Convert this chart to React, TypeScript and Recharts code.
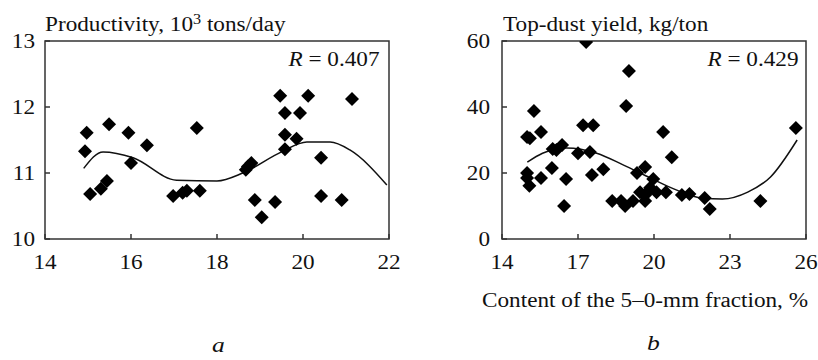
import React from 'react'
import {
  ComposedChart,
  Scatter,
  Line,
  XAxis,
  YAxis,
  ReferenceArea,
} from 'recharts'

// Panel a: productivity vs. 5-0 mm fraction
const productivityX = [
  14.97, 15.49, 15.94, 17.53, 14.93, 16.37, 16.0, 15.05, 15.3, 15.44, 16.98, 17.2, 17.3, 17.6, 18.67,
  18.8, 18.72, 18.88, 19.04, 19.35, 19.58, 19.58, 19.85, 20.42, 20.42, 20.9, 19.47, 20.12, 21.14,
  19.58, 19.93,
]
const productivityY = [
  11.61, 11.74, 11.61, 11.68, 11.33, 11.42, 11.15, 10.68, 10.76, 10.88, 10.65, 10.7, 10.73, 10.73,
  11.05, 11.15, 11.1, 10.59, 10.33, 10.56, 11.58, 11.36, 11.52, 11.23, 10.65, 10.59, 12.17, 12.17,
  12.12, 11.91, 11.91,
]
const productivityTrendX = [14.9, 15.35, 16.05, 17.06, 18.0, 18.6, 19.5, 20.09, 20.63, 21.09, 21.95]
const productivityTrendY = [11.07, 11.32, 11.23, 10.89, 10.88, 11.0, 11.32, 11.47, 11.47, 11.35, 10.82]

// Panel b: top-dust yield vs. 5-0 mm fraction
const dustX = [
  17.32, 19.01, 18.9, 15.26, 17.2, 17.6, 15.54, 20.36, 25.6, 14.99, 15.1, 16.0, 16.37, 16.15, 17.0,
  17.47, 20.7, 15.97, 18.0, 17.55, 14.99, 14.99, 15.54, 15.08, 16.53, 16.45, 19.33, 19.65, 19.97,
  18.35, 18.7, 18.86, 19.17, 19.45, 19.65, 19.73, 19.85, 19.65, 20.1, 20.47, 21.1, 21.4, 22.0, 22.2,
  24.2,
]
const dustY = [
  59.7, 50.9, 40.3, 38.8, 34.5, 34.5, 32.4, 32.4, 33.6, 30.9, 30.5, 27.3, 28.5, 27.0, 26.0, 26.4,
  24.8, 21.5, 21.1, 19.4, 20.0, 18.5, 18.5, 16.1, 18.2, 10.0, 20.0, 21.8, 18.2, 11.5, 11.5, 10.0,
  11.5, 14.2, 11.5, 14.2, 15.5, 13.3, 14.2, 14.2, 13.3, 13.6, 12.4, 9.1, 11.5,
]
const dustTrendX = [15.0, 15.6, 16.55, 17.74, 18.8, 19.85, 20.9, 21.9, 22.7, 23.7, 24.6, 25.65]
const dustTrendY = [23.3, 26.0, 27.6, 26.0, 22.4, 18.5, 14.8, 12.4, 12.1, 14.2, 18.8, 30.0]

const ticksAX = [14, 16, 18, 20, 22]
const ticksAY = [10, 11, 12, 13]
const ticksBX = [14, 17, 20, 23, 26]
const ticksBY = [0, 20, 40, 60]

const FONT = '"Liberation Serif", "Times New Roman", serif'
const FS = 20
const STRETCH = 1.16 // the source typeface is wider than Times
const INK = '#111'
const FRAME = '#333'

const zip = (xs: number[], ys: number[]) => xs.map((x, i) => ({ x, y: ys[i] }))

function Diamond(props: any) {
  const { cx, cy } = props
  if (cx == null || cy == null) return null
  const r = 7
  return <polygon points={`${cx},${cy - r} ${cx + r},${cy} ${cx},${cy + r} ${cx - r},${cy}`} fill="#000" />
}

// serif tick label, widened to match the source face
function SerifTick(props: any) {
  const { x, y, payload, anchor, dy } = props
  return (
    <g transform={`translate(${x},${y}) scale(${STRETCH},1)`}>
      <text x={0} y={0} dy={dy} textAnchor={anchor} fontFamily={FONT} fontSize={FS} fill={INK}>
        {payload.value}
      </text>
    </g>
  )
}

function Panel({
  points,
  trend,
  xDomain,
  yDomain,
  xTicks,
  yTicks,
  width,
  yAxisWidth,
  yTickMargin,
}: {
  points: { x: number; y: number }[]
  trend: { x: number; y: number }[]
  xDomain: [number, number]
  yDomain: [number, number]
  xTicks: number[]
  yTicks: number[]
  width: number
  yAxisWidth: number
  yTickMargin: number
}) {
  return (
    <ComposedChart width={width} height={360} margin={{ top: 41, right: 12, bottom: 91, left: 0 }}>
      <XAxis
        type="number"
        dataKey="x"
        domain={xDomain}
        ticks={xTicks}
        allowDataOverflow
        height={30}
        axisLine={false}
        tickSize={-5}
        tickMargin={21}
        tickLine={{ stroke: FRAME, strokeWidth: 1.5 }}
        tick={<SerifTick anchor="middle" dy="0.71em" />}
        interval={0}
      />
      <YAxis
        type="number"
        dataKey="y"
        domain={yDomain}
        ticks={yTicks}
        allowDataOverflow
        width={yAxisWidth}
        axisLine={false}
        tickSize={-5}
        tickMargin={yTickMargin}
        tickLine={{ stroke: FRAME, strokeWidth: 1.5 }}
        tick={<SerifTick anchor="end" dy="0.35em" />}
        interval={0}
      />
      <ReferenceArea
        x1={xDomain[0]}
        x2={xDomain[1]}
        y1={yDomain[0]}
        y2={yDomain[1]}
        fill="none"
        stroke={FRAME}
        strokeWidth={1.5}
        fillOpacity={0}
        ifOverflow="visible"
      />
      <Line
        data={trend}
        dataKey="y"
        type="monotone"
        stroke="#111"
        strokeWidth={1.5}
        dot={false}
        activeDot={false}
        isAnimationActive={false}
      />
      <Scatter data={points} dataKey="y" shape={<Diamond />} isAnimationActive={false} />
    </ComposedChart>
  )
}

const label = (pos: React.CSSProperties, origin: 'left' | 'right', extra: React.CSSProperties = {}): React.CSSProperties => ({
  position: 'absolute',
  fontFamily: FONT,
  fontSize: FS,
  lineHeight: 1,
  color: INK,
  whiteSpace: 'nowrap',
  transform: `scaleX(${STRETCH})`,
  transformOrigin: origin,
  ...pos,
  ...extra,
})

export default function App() {
  return (
    <div style={{ position: 'absolute', left: 0, top: 0, width: 818, height: 360, background: '#fff' }}>
      <div style={{ position: 'absolute', left: 0, top: 0 }}>
        <Panel
          points={zip(productivityX, productivityY)}
          trend={zip(productivityTrendX, productivityTrendY)}
          xDomain={[14, 22]}
          yDomain={[10, 13]}
          xTicks={ticksAX}
          yTicks={ticksAY}
          width={401}
          yAxisWidth={45}
          yTickMargin={15}
        />
      </div>
      <div style={{ position: 'absolute', left: 410, top: 0 }}>
        <Panel
          points={zip(dustX, dustY)}
          trend={zip(dustTrendX, dustTrendY)}
          xDomain={[14, 26]}
          yDomain={[0, 60]}
          xTicks={ticksBX}
          yTicks={ticksBY}
          width={408}
          yAxisWidth={92}
          yTickMargin={17}
        />
      </div>

      <div style={label({ left: 45, top: 14 }, 'left')}>
        Productivity, 10<span style={{ fontSize: 14, position: 'relative', top: -7 }}>3</span> tons/day
      </div>
      <div style={label({ left: 503, top: 14 }, 'left')}>Top-dust yield, kg/ton</div>

      <div style={label({ right: 818 - 379, top: 49 }, 'right')}>
        <i>R</i> = 0.407
      </div>
      <div style={label({ right: 818 - 798, top: 49 }, 'right')}>
        <i>R</i> = 0.429
      </div>

      <div style={label({ right: 10, top: 290 }, 'right')}>Content of the 5–0-mm fraction, %</div>

      <div style={label({ left: 212, top: 334 }, 'left', { fontStyle: 'italic', fontSize: 22 })}>a</div>
      <div style={label({ left: 647, top: 332 }, 'left', { fontStyle: 'italic', fontSize: 22 })}>b</div>
    </div>
  )
}
